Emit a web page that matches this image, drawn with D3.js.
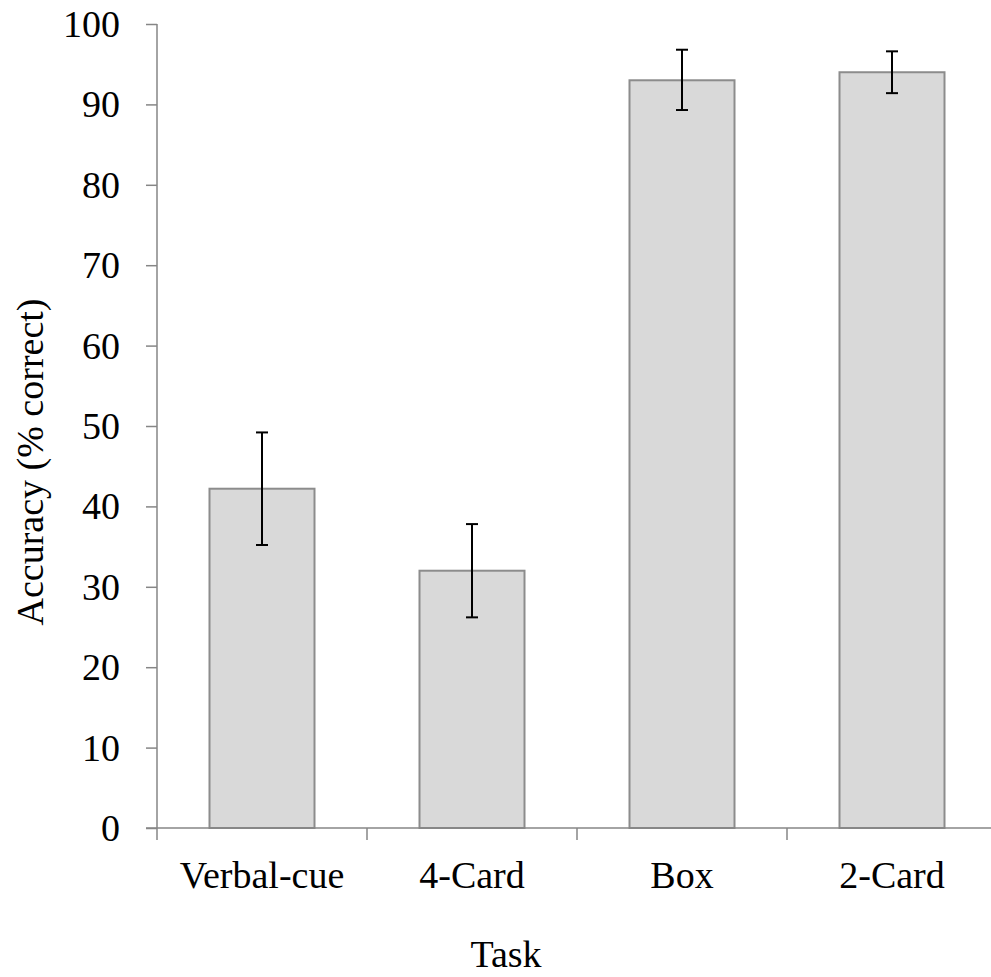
<!DOCTYPE html>
<html><head><meta charset="utf-8">
<script src="https://cdn.jsdelivr.net/npm/d3@7"></script>
<style>body{margin:0;background:#fff}svg{display:block}text{font-family:"Liberation Serif","DejaVu Serif",serif;fill:#000}</style>
</head><body>
<script>
const categories = ["Verbal-cue", "4-Card", "Box", "2-Card"];
const values = [42.2, 32.0, 93.0, 94.0];
const errLow = [35.2, 26.2, 89.3, 91.4];
const errHigh = [49.2, 37.8, 96.8, 96.6];
const yTicks = [0, 10, 20, 30, 40, 50, 60, 70, 80, 90, 100];
const yLabel = "Accuracy (% correct)";
const xLabel = "Task";

const W = 991, H = 977;
const FS = 38;
const svg = d3.select("body").append("svg").attr("width", W).attr("height", H);
const mLeft = 157, mRight = 997, mTop = 24, mBottom = 828;
const x = d3.scaleBand().domain(categories).range([mLeft, mRight]).paddingInner(0.5).paddingOuter(0.25);
const xb = d3.scaleBand().domain(categories).range([mLeft, mRight]);
const y = d3.scaleLinear().domain([0, 100]).range([mBottom, mTop]);
const axisCol = "#868686";

// y axis
const ya = svg.append("g").attr("transform", `translate(${mLeft},0)`)
  .call(d3.axisLeft(y).tickValues(yTicks).tickSize(11).tickPadding(26));
ya.selectAll("path,line").attr("stroke", axisCol).attr("stroke-width", 1.5);
ya.select(".domain").attr("d", `M0,${mTop}V${mBottom}`);
ya.selectAll("text").attr("font-size", FS).attr("font-family", '"Liberation Serif",serif').attr("dy", "0.33em");

// bars
svg.selectAll("rect.bar").data(categories).join("rect")
  .attr("x", d => x(d)).attr("width", x.bandwidth())
  .attr("y", (d, i) => y(values[i])).attr("height", (d, i) => y(0) - y(values[i]))
  .attr("fill", "#d9d9d9").attr("stroke", "#8c8c8c").attr("stroke-width", 2);

// x axis
const xa = svg.append("g").attr("transform", `translate(0,${mBottom})`);
xa.append("line").attr("x1", mLeft - 11).attr("x2", W).attr("stroke", axisCol).attr("stroke-width", 1.5);
const bounds = categories.map(c => xb(c)).concat([xb(categories[categories.length - 1]) + xb.bandwidth()]);
xa.selectAll("line.tk").data(bounds).join("line").attr("class", "tk")
  .attr("x1", d => d).attr("x2", d => d).attr("y1", 0).attr("y2", 12)
  .attr("stroke", axisCol).attr("stroke-width", 1.5);
xa.selectAll("text").data(categories).join("text")
  .attr("x", d => x(d) + x.bandwidth() / 2).attr("y", 60)
  .attr("text-anchor", "middle").attr("font-size", FS).text(d => d);

// error bars
const eb = svg.append("g").attr("stroke", "#000").attr("stroke-width", 2);
categories.forEach((c, i) => {
  const cx = x(c) + x.bandwidth() / 2;
  eb.append("line").attr("x1", cx).attr("x2", cx).attr("y1", y(errHigh[i])).attr("y2", y(errLow[i]));
  eb.append("line").attr("x1", cx - 6).attr("x2", cx + 6).attr("y1", y(errHigh[i])).attr("y2", y(errHigh[i]));
  eb.append("line").attr("x1", cx - 6).attr("x2", cx + 6).attr("y1", y(errLow[i])).attr("y2", y(errLow[i]));
});

// titles
svg.append("text").attr("transform", `translate(43,462) rotate(-90)`)
  .attr("text-anchor", "middle").attr("font-size", FS).text(yLabel);
svg.append("text").attr("x", 506).attr("y", 967).attr("text-anchor", "middle").attr("font-size", FS).text(xLabel);
</script>
</body></html>
